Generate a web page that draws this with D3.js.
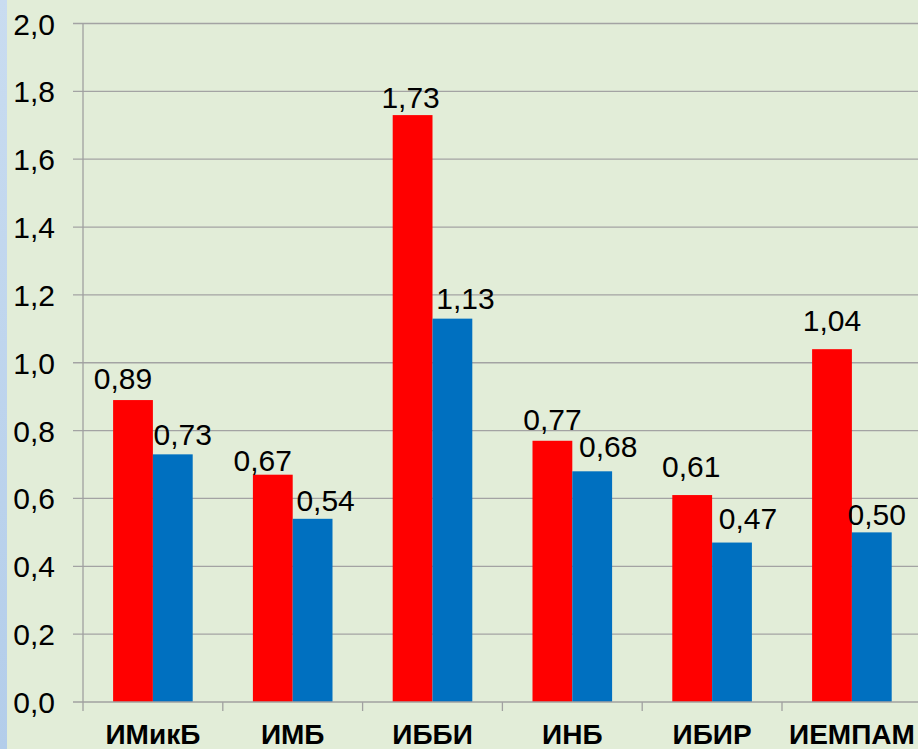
<!DOCTYPE html>
<html>
<head>
<meta charset="utf-8">
<script src="https://cdn.jsdelivr.net/npm/d3@7/dist/d3.min.js"></script>
<style>
  html, body { margin: 0; padding: 0; background: #e2edd8; }
  svg { display: block; }
  text { font-family: Arial, "Liberation Sans", sans-serif; fill: #000; }
</style>
</head>
<body>
<svg id="chart" width="918" height="749"></svg>
<script>
// ---- data ----
const categories = ["ИМикБ", "ИМБ", "ИББИ", "ИНБ", "ИБИР", "ИЕМПАМ"];
const seriesNames = ["s1", "s2"];
const redValues  = [0.89, 0.67, 1.73, 0.77, 0.61, 1.04];
const blueValues = [0.73, 0.54, 1.13, 0.68, 0.47, 0.50];
const yTicks = [0, 0.2, 0.4, 0.6, 0.8, 1.0, 1.2, 1.4, 1.6, 1.8, 2.0];

// ---- layout (label nudges, as placed in the original) ----
const redLabelDx  = [-10, -10, -2, 0, -1, 0];
const blueLabelDx = [10, 13, 13, 16, 16, 5];
const redLabelGap  = [11, 4, 7, 11, 18, 18];
const blueLabelGap = [9, 8, 10, 14, 14, 7];

const W = 918, H = 749;
const svg = d3.select("#chart");
const colors = { s1: "#ff0000", s2: "#0070c0" };
const fmt = v => d3.format(".2f")(v).replace(".", ",");
const fmtTick = v => d3.format(".1f")(v).replace(".", ",");

// background + left blue strip
const defs = svg.append("defs");
const grad = defs.append("linearGradient").attr("id", "strip").attr("x1", 0).attr("y1", 0).attr("x2", 0).attr("y2", 1);
grad.append("stop").attr("offset", "0%").attr("stop-color", "#c9dcf0");
grad.append("stop").attr("offset", "100%").attr("stop-color", "#b3cdea");
svg.append("rect").attr("width", W).attr("height", H).attr("fill", "#e2edd8");
svg.append("rect").attr("width", 7).attr("height", H).attr("fill", "url(#strip)");

const x0 = 83, yZero = 702, yTop = 23.5, step = 139.8;
const x = d3.scaleBand().domain(categories).range([x0, x0 + step * categories.length]).padding(0);
const xs = d3.scaleBand().domain(seriesNames).range([30.1, step - 30.1]).padding(0);
const y = d3.scaleLinear().domain([0, 2]).range([yZero, yTop]);

// gridlines
svg.append("g").selectAll("line").data(yTicks.filter(t => t > 0)).join("line")
  .attr("x1", 73).attr("x2", W)
  .attr("y1", d => y(d)).attr("y2", d => y(d))
  .attr("stroke", "#a3a3a3").attr("stroke-width", 1.3);

// bars
const rows = categories.map((c, i) => ({ c, i, s1: redValues[i], s2: blueValues[i] }));
const g = svg.append("g");
seriesNames.forEach(s => {
  g.selectAll("rect." + s).data(rows).join("rect")
    .attr("class", s)
    .attr("x", d => x(d.c) + xs(s))
    .attr("width", xs.bandwidth())
    .attr("y", d => y(d[s]))
    .attr("height", d => yZero - y(d[s]))
    .attr("fill", colors[s]);
});

// axes lines
svg.append("line").attr("x1", 73).attr("x2", W).attr("y1", yZero).attr("y2", yZero)
  .attr("stroke", "#a0a0a0").attr("stroke-width", 1.3);
svg.append("line").attr("x1", x0).attr("x2", x0).attr("y1", yTop).attr("y2", yZero + 9)
  .attr("stroke", "#a0a0a0").attr("stroke-width", 1.3);
// category ticks
svg.append("g").selectAll("line").data(categories.slice(1)).join("line")
  .attr("x1", d => x(d)).attr("x2", d => x(d))
  .attr("y1", yZero).attr("y2", yZero + 9)
  .attr("stroke", "#a0a0a0").attr("stroke-width", 1.3);

// y tick labels
svg.append("g").selectAll("text").data(yTicks).join("text")
  .attr("x", 55).attr("y", d => y(d) + 11)
  .attr("text-anchor", "end")
  .style("font-size", "30px")
  .text(fmtTick);

// category labels
svg.append("g").selectAll("text").data(categories).join("text")
  .attr("x", d => x(d) + x.bandwidth() / 2).attr("y", 744)
  .attr("text-anchor", "middle")
  .style("font-size", "28px").style("font-weight", "bold")
  .text(d => d);

// value labels
const lg = svg.append("g");
lg.selectAll("text.r").data(rows).join("text").attr("class", "r")
  .attr("x", d => x(d.c) + xs("s1") + xs.bandwidth() / 2 + redLabelDx[d.i])
  .attr("y", d => y(d.s1) - redLabelGap[d.i])
  .attr("text-anchor", "middle").style("font-size", "30px")
  .text(d => fmt(d.s1));
lg.selectAll("text.b").data(rows).join("text").attr("class", "b")
  .attr("x", d => x(d.c) + xs("s2") + xs.bandwidth() / 2 + blueLabelDx[d.i])
  .attr("y", d => y(d.s2) - blueLabelGap[d.i])
  .attr("text-anchor", "middle").style("font-size", "30px")
  .text(d => fmt(d.s2));
</script>
</body>
</html>
